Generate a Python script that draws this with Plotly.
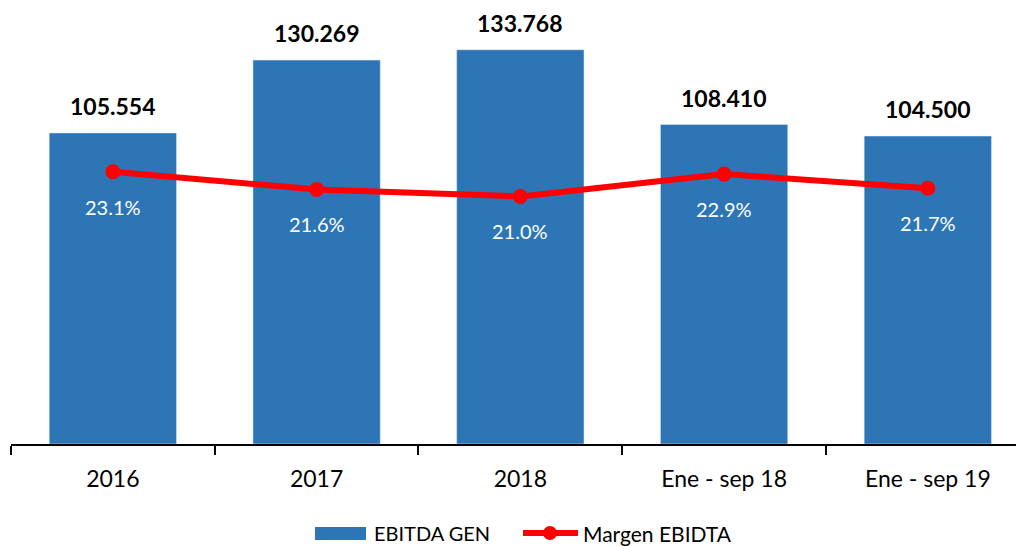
import plotly.graph_objects as go

categories = ["2016", "2017", "2018", "Ene - sep 18", "Ene - sep 19"]
ebitda = [105554, 130269, 133768, 108410, 104500]
ebitda_labels = ["105.554", "130.269", "133.768", "108.410", "104.500"]
margen = [0.231, 0.216, 0.210, 0.229, 0.217]
margen_labels = ["23.1%", "21.6%", "21.0%", "22.9%", "21.7%"]

BLUE = "#2E75B6"
RED = "#FF0000"
FONT = "Lato"

fig = go.Figure()
fig.add_trace(go.Bar(x=categories, y=ebitda, marker_color=BLUE, width=0.625,
                     name="EBITDA GEN", showlegend=False))
fig.add_trace(go.Scatter(x=categories, y=margen, yaxis="y2", mode="lines+markers",
                         line=dict(color=RED, width=6), marker=dict(color=RED, size=15),
                         name="Margen EBIDTA", showlegend=False))

ann = []
for i, (v, t) in enumerate(zip(ebitda, ebitda_labels)):
    ann.append(dict(x=i, y=v, xref="x", yref="y", text=f"<b>{t}</b>", showarrow=False,
                    yanchor="middle", yshift=27, font=dict(family=FONT, size=23, color="black")))
for i, (v, t) in enumerate(zip(margen, margen_labels)):
    ann.append(dict(x=i, y=v, xref="x", yref="y2", text=t, showarrow=False,
                    yanchor="middle", yshift=-35, font=dict(family=FONT, size=20, color="white")))

# page is offset by 8px body margin; plot area on page: x 11..1024, y 8..444
def px(x):
    return (x - 11) / 1013
def py(y):
    return (444 - y) / 436

shapes = [
    dict(type="rect", xref="paper", yref="paper", x0=px(315), x1=px(366), y0=py(540), y1=py(527),
         fillcolor=BLUE, line=dict(width=0)),
    dict(type="line", xref="paper", yref="paper", x0=px(523), x1=px(578), y0=py(533), y1=py(533),
         line=dict(color=RED, width=6)),
    dict(type="circle", xref="paper", yref="paper", x0=px(543), x1=px(557), y0=py(540), y1=py(526),
         fillcolor=RED, line=dict(width=0)),
]
ann.append(dict(x=px(372), y=py(533), xref="paper", yref="paper", text="EBITDA GEN", showarrow=False,
                xanchor="left", yanchor="middle", font=dict(family=FONT, size=20, color="black")))
ann.append(dict(x=px(581), y=py(533), xref="paper", yref="paper", text="Margen EBIDTA", showarrow=False,
                xanchor="left", yanchor="middle", font=dict(family=FONT, size=21, color="black")))

fig.update_layout(
    width=1016, height=538,
    margin=dict(l=3, r=0, t=0, b=102),
    paper_bgcolor="white", plot_bgcolor="white",
    font=dict(family=FONT, color="black"),
    annotations=ann, shapes=shapes,
    xaxis=dict(type="category", range=[-0.5, 4.472], showline=True, linecolor="black", linewidth=1.5,
               ticks="outside", tickson="boundaries", ticklen=9, tickwidth=1.5, tickcolor="black",
               tickfont=dict(family=FONT, size=23, color="black"), ticklabelstandoff=14,
               showgrid=False, zeroline=False),
    yaxis=dict(range=[0, 147950], visible=False, showgrid=False, zeroline=False),
    yaxis2=dict(range=[0, 0.3699], overlaying="y", side="right", visible=False,
                showgrid=False, zeroline=False),
)

fig.write_html("out.html")
